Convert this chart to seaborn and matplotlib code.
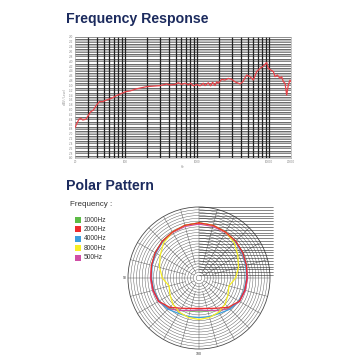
import numpy as np
import pandas as pd
import matplotlib
matplotlib.use("Agg")
import matplotlib.pyplot as plt
from matplotlib.patches import Circle, Rectangle
import seaborn as sns

# ---------------- data ----------------
freq_hz = [20, 21.1, 22.7, 24, 25.6, 28.4, 30.3, 33, 36, 39, 43.6, 48.4, 55, 64.6, 75.8,
           89, 101, 116, 144, 198, 272, 303, 375, 417, 490, 545, 605, 674, 750, 807,
           880, 980, 1090, 1210, 1280, 1420, 1530, 1630, 1760, 1860, 1960, 2180, 2420,
           2700, 3000, 3330, 3910, 4270, 4840, 5390, 6000, 6670, 7420, 8260, 9180,
           9680, 10440, 11380, 12000, 12920, 14070, 14830, 15660, 16520, 17420, 18360,
           19360, 20000]
level_db = [-67.5, -65.9, -64.0, -63.6, -64.3, -64.0, -62.6, -60.9, -60.2, -58.5, -56.7,
            -56.7, -56.0, -55.3, -54.2, -53.3, -52.6, -52.3, -51.4, -50.5, -50.2, -50.1,
            -49.4, -49.8, -49.6, -48.9, -49.6, -49.1, -49.8, -49.1, -50.2, -49.6, -50.2,
            -49.1, -50.1, -48.9, -50.2, -48.7, -50.1, -48.5, -49.1, -47.5, -47.8, -47.1,
            -47.5, -48.5, -49.4, -48.5, -45.7, -46.4, -47.8, -44.3, -43.0, -42.0, -40.5,
            -43.0, -43.6, -44.3, -46.4, -45.7, -47.1, -46.4, -48.5, -49.1, -54.0, -49.8,
            -47.8, -48.5]
fr_xticks = [20, 100, 1000, 10000, 20000]
fr_xticklabels = ["20", "100", "1000", "10000", "20000"]

polar_angles = [0, 15, 30, 45, 60, 75, 90, 105, 120, 135, 150, 165, 180]
r_1000 = [19.4, 19.2, 18.7, 18.3, 17.8, 17.3, 16.9, 16.7, 16.4, 15.1, 13.2, 12.0, 11.6]
r_2000 = [19.4, 19.2, 18.7, 18.3, 17.8, 17.3, 16.9, 16.7, 16.4, 14.6, 12.3, 11.1, 10.7]
r_4000 = [19.4, 19.2, 18.7, 18.1, 17.6, 17.1, 16.7, 16.5, 16.2, 15.5, 14.4, 14.1, 13.9]
r_8000 = [19.4, 19.2, 18.7, 17.6, 15.8, 14.4, 12.9, 10.9, 11.8, 13.0, 13.9, 14.4, 14.6]
r_500 = [19.0, 18.8, 18.5, 18.1, 17.6, 17.3, 17.1, 16.9, 16.5, 15.3, 13.2, 11.8, 11.3]

legend_labels = ["1000Hz", "2000Hz", "4000Hz", "8000Hz", "500Hz"]
legend_colors = ["#5dbb46", "#ee2b2e", "#3b9ede", "#f6ee25", "#d04ea6"]
polar_series = [r_1000, r_2000, r_4000, r_8000, r_500]

# ---------------- style ----------------
sns.set_style("white")
plt.rcParams['font.family'] = ['Liberation Sans', 'DejaVu Sans']

fig = plt.figure(figsize=(3.6, 3.6), dpi=100)
W = H = 360.0

def fx(px):
    return px / W

def fy(py):
    return 1 - py / H

# ---------------- titles ----------------
title_color = "#1c2b5e"
fig.text(fx(137), fy(19), "Frequency Response", ha="center", va="center",
         fontsize=10.2, fontweight="bold", color=title_color)
fig.text(fx(66), fy(186), "Polar Pattern", ha="left", va="center",
         fontsize=10.2, fontweight="bold", color=title_color)

# ---------------- frequency response ----------------
ax1 = fig.add_axes([fx(75), fy(158), 216 / W, 121 / H])
ax1.set_xscale("log")
ax1.set_xlim(20, 20000)
ax1.set_ylim(-80, -30)
for k in range(-80, -30, 2):
    ax1.axhspan(k, k + 1, color="#c2c2c2", lw=0, zorder=0)
for k in range(-80, -29):
    ax1.axhline(k, color="#2a2a2a", lw=0.4, zorder=1)
for dec in [10, 100, 1000, 10000]:
    for m in range(1, 10):
        f = dec * m
        if 20 < f < 20000:
            ax1.axvline(f, color="#222222", lw=0.9, zorder=1)
sns.lineplot(x=freq_hz, y=level_db, ax=ax1, color="#e8444a", lw=0.9,
             sort=False, estimator=None, zorder=3)
ax1.set_xticks(fr_xticks)
ax1.set_xticklabels(fr_xticklabels)
ax1.xaxis.set_minor_locator(matplotlib.ticker.NullLocator())
ax1.set_yticks(list(range(-80, -29, 2)))
ax1.set_yticklabels([str(v) for v in range(-80, -29, 2)])
ax1.tick_params(axis="both", length=0, labelsize=2.2, labelcolor="#8a8a8a", pad=1.2)
ax1.set_xlabel("Hz", fontsize=2.2, color="#8a8a8a", labelpad=1)
ax1.set_ylabel("dBV / Level", fontsize=2.2, color="#8a8a8a", labelpad=1.5)
for s in ax1.spines.values():
    s.set_color("#9a9a9a")
    s.set_linewidth(0.4)

# ---------------- polar pattern ----------------
R_UNIT = 71 / 25.0  # px per unit
half = 27 * R_UNIT
ax2 = fig.add_axes([fx(199 - half), fy(278 + half), 2 * half / W, 2 * half / H])
ax2.set_xlim(-27, 27)
ax2.set_ylim(-27, 27)
ax2.set_aspect("equal")
ax2.axis("off")

grid_c = "#4a4a4a"
for k in range(1, 26):
    ax2.add_patch(Circle((0, 0), k, fill=False, lw=0.6 if k == 25 else 0.3,
                         ec=grid_c, zorder=1))
for ang in range(0, 360, 15):
    t = np.deg2rad(ang)
    r0 = 2 if ang % 30 == 0 else 5
    ax2.plot([-r0 * np.sin(t), -25 * np.sin(t)], [r0 * np.cos(t), 25 * np.cos(t)],
             color=grid_c, lw=0.3, zorder=1)
for k in range(1, 26):
    ax2.plot([0, 26], [k, k], color="#2a2a2a", lw=0.4, zorder=1)
ax2.text(-25.6, 0, "90", fontsize=2.5, ha="right", va="center", color="#333333")
ax2.text(0, -26.2, "180", fontsize=2.5, ha="center", va="top", color="#333333")

order = [0, 4, 2, 3, 1]
for i in order:
    r_half = polar_series[i]
    angs = polar_angles + [360 - a for a in polar_angles[-2::-1]]
    rads = r_half + r_half[-2::-1]
    t = np.deg2rad(angs)
    df = pd.DataFrame({"x": -np.array(rads) * np.sin(t),
                       "y": np.array(rads) * np.cos(t)})
    sns.lineplot(data=df, x="x", y="y", ax=ax2, sort=False, estimator=None,
                 color=legend_colors[i], lw=0.9, zorder=3)
ax2.set_xlabel("")
ax2.set_ylabel("")

# ---------------- legend ----------------
fig.text(fx(70), fy(205), "Frequency :", ha="left", va="center", fontsize=5.8,
         color="#333333")
for i, (lab, col) in enumerate(zip(legend_labels, legend_colors)):
    yc = 220 + i * 9.4
    fig.add_artist(Rectangle((fx(75), fy(yc + 3)), 6 / W, 6 / H,
                             transform=fig.transFigure, color=col, lw=0))
    fig.text(fx(84), fy(yc), lab, ha="left", va="center", fontsize=4.8,
             color="#333333")

fig.savefig("out.png", dpi=100)
